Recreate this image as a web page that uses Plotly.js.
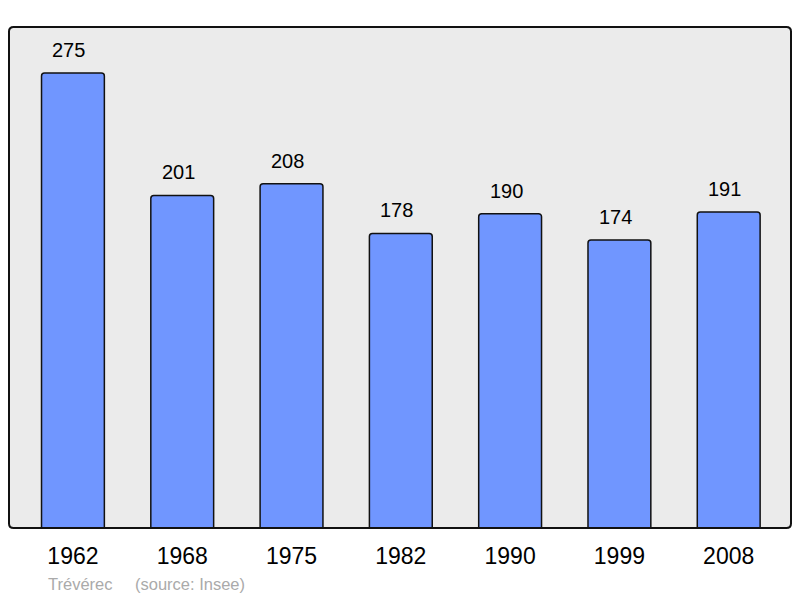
<!DOCTYPE html>
<html>
<head>
<meta charset="utf-8">
<script src="https://cdn.plot.ly/plotly-3.0.1.min.js"></script>
<style>
  body { margin: 0; background: #fff; }
  #chart { width: 800px; height: 598px; }
</style>
</head>
<body>
<div id="chart"></div>
<script>
var years = ["1962", "1968", "1975", "1982", "1990", "1999", "2008"];
var population = [275, 201, 208, 178, 190, 174, 191];
var town = "Trévérec";
var source = "(source: Insee)";

// rounded frame around the plot area, in paper units
function roundedFrame(rx, ry)
{
	return "M " + rx + ",0 L " + (1 - rx) + ",0 Q 1,0 1," + ry +
		" L 1," + (1 - ry) + " Q 1,1 " + (1 - rx) + ",1" +
		" L " + rx + ",1 Q 0,1 0," + (1 - ry) +
		" L 0," + ry + " Q 0,0 " + rx + ",0 Z";
}

var labels = [];
for (var i = 0; i < years.length; i++) {
	// category axis: index i is the position of years[i]
	labels.push({
		x: i,
		y: population[i],
		text: String(population[i]),
		showarrow: false,
		yanchor: "bottom",
		yshift: 10,
		xshift: -4,
		font: { family: "Liberation Sans, Arial, sans-serif", size: 20, color: "#000" }
	});
}
labels.push({
	xref: "paper", yref: "paper", x: 0.047, y: 0, xanchor: "left", yanchor: "middle",
	yshift: -56, showarrow: false, text: town,
	font: { family: "Liberation Sans, Arial, sans-serif", size: 16.5, color: "#aaaaaa" }
});
labels.push({
	xref: "paper", yref: "paper", x: 0.158, y: 0, xanchor: "left", yanchor: "middle",
	yshift: -56, showarrow: false, text: source,
	font: { family: "Liberation Sans, Arial, sans-serif", size: 16.5, color: "#aaaaaa" }
});

var trace = {
	type: "bar",
	x: years,
	y: population,
	width: 0.575,
	marker: {
		color: "#7096ff",
		line: { color: "#111", width: 1.5 },
		cornerradius: 3
	},
	hoverinfo: "none"
};

var layout = {
	width: 800,
	height: 598,
	margin: { l: 9, r: 9, t: 27, b: 70 },
	paper_bgcolor: "#ffffff",
	plot_bgcolor: "#ebebeb",
	showlegend: false,
	xaxis: {
		type: "category",
		range: [-0.585, 6.57],
		showgrid: false,
		zeroline: false,
		showline: false,
		ticks: "",
		ticklabelstandoff: 12,
		tickfont: { family: "Liberation Sans, Arial, sans-serif", size: 23, color: "#000" }
	},
	yaxis: {
		range: [0, 302.8],
		showgrid: false,
		zeroline: false,
		showline: false,
		showticklabels: false,
		ticks: ""
	},
	shapes: [{
		type: "path",
		xref: "paper",
		yref: "paper",
		path: roundedFrame(0.006, 0.009),
		line: { color: "#111", width: 2 },
		fillcolor: "rgba(0,0,0,0)",
		layer: "above"
	}],
	annotations: labels
};

Plotly.newPlot("chart", [trace], layout, { staticPlot: true });
</script>
</body>
</html>
